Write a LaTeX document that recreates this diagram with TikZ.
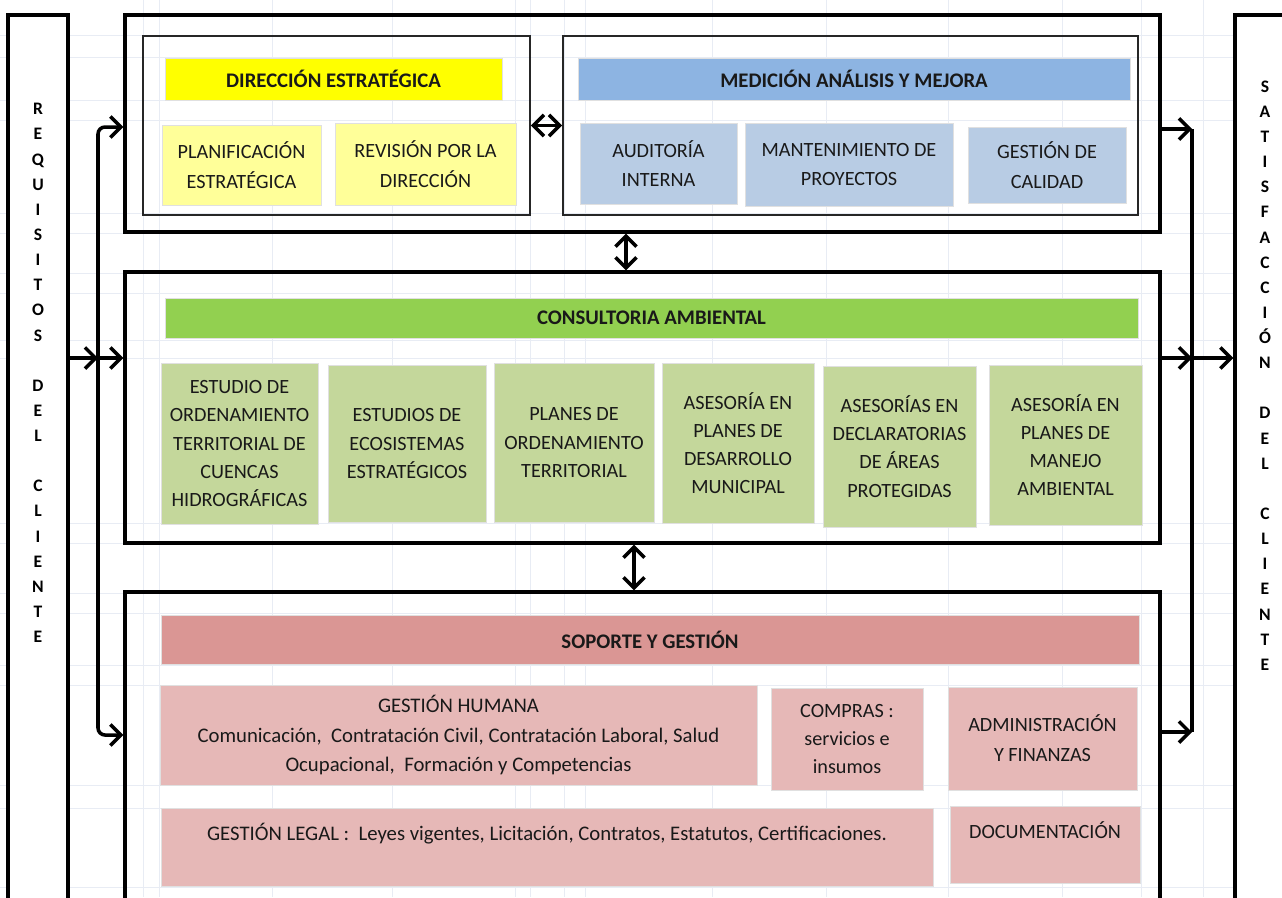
\documentclass[tikz,border=0pt]{standalone}
\usepackage{fontspec}
\setmainfont{Carlito}
\usepackage{xcolor}
\usepackage{tikz}
\usetikzlibrary{arrows.meta}

\definecolor{rejilla}{HTML}{E8ECF4}
\definecolor{amarillo}{HTML}{FFFF00}
\definecolor{amarilloclaro}{HTML}{FFFF99}
\definecolor{azul}{HTML}{8DB4E2}
\definecolor{azulclaro}{HTML}{B8CCE4}
\definecolor{verde}{HTML}{92D050}
\definecolor{verdeclaro}{HTML}{C4D79B}
\definecolor{rosa}{HTML}{DA9694}
\definecolor{rosaclaro}{HTML}{E6B8B7}

\begin{document}
\begin{tikzpicture}[
    every node/.style={font=\fontsize{11.5}{16}\selectfont, text=black!90},
    outerbox/.style={draw=black, line width=1.8pt, inner sep=0pt, minimum width=20.70cm},
    innerbox/.style={draw=black!85, line width=1.1pt, inner sep=0pt, minimum height=3.58cm},
    headbar/.style={draw=black!12, line width=0.4pt, inner sep=0pt,
                    font=\fontsize{11.8}{16}\selectfont\bfseries, minimum height=0.84cm},
    itembox/.style={draw=black!12, line width=0.4pt, inner sep=2pt, align=center},
    sidebox/.style={draw=black, line width=1.8pt, fill=white, inner sep=0pt,
                    minimum width=1.2cm, minimum height=17.9cm},
    sidetext/.style={font=\fontsize{10}{14.3}\selectfont\bfseries, align=center, text=black},
    flow/.style={-{Straight Barb[length=6pt,width=12pt]}, line width=2pt},
    twoway/.style={{Straight Barb[length=6pt,width=12pt]}-{Straight Barb[length=6pt,width=12pt]},
                   line width=2pt}
  ]
  \useasboundingbox (0,0) rectangle (25.64,-17.94);
  \clip (0,0) rectangle (25.64,-17.94);

  % spreadsheet grid behind everything
  \foreach \gx in {2.86,3.18,5.44,7.84,10.30,10.60,11.28,11.70,14.24,16.52,18.96,21.24,22.82,24.06}
    \draw[rejilla, line width=0.5pt] (\gx,0) -- (\gx,-17.94);
  \foreach \gy in {0.70,1.14,2.00,2.40,4.26,4.66,5.46,5.86,6.80,7.16,10.46,10.86,11.86,12.26,13.30,13.70,15.70,16.16,17.74}
    \draw[rejilla, line width=0.5pt] (0,-\gy) -- (25.64,-\gy);

  % client columns
  \node[sidebox] (req) at (0.76,-9.25) {};
  \node[sidetext] (req text) at (0.76,-7.46)
    {R\\E\\Q\\U\\I\\S\\I\\T\\O\\S\\[14.3pt]D\\E\\L\\[14.3pt]C\\L\\I\\E\\N\\T\\E};
  \node[sidebox, minimum width=1.4cm] (sat) at (25.40,-9.25) {};
  \node[sidetext] (sat text) at (25.30,-7.51)
    {S\\A\\T\\I\\S\\F\\A\\C\\C\\I\\Ó\\N\\[14.3pt]D\\E\\L\\[14.3pt]C\\L\\I\\E\\N\\T\\E};

  % process blocks
  \node[outerbox, minimum height=4.34cm] (top) at (12.85,-2.47) {};
  \node[outerbox, minimum height=5.42cm] (mid) at (12.85,-8.15) {};
  \node[outerbox, minimum height=6.36cm] (low) at (12.85,-15.02) {};

  % direccion / medicion
  \node[innerbox, minimum width=7.74cm] (dir) at (6.73,-2.51) {};
  \node[innerbox, minimum width=11.50cm] (med) at (17.01,-2.51) {};
  \node[headbar, fill=amarillo, minimum width=6.74cm] (dir head) at (6.67,-1.58) {DIRECCIÓN ESTRATÉGICA};
  \node[itembox, fill=amarilloclaro, minimum width=3.18cm, minimum height=1.60cm,
        font=\fontsize{11.5}{17}\selectfont] (plan) at (4.83,-3.30) {PLANIFICACIÓN\\ESTRATÉGICA};
  \node[itembox, fill=amarilloclaro, minimum width=3.62cm, minimum height=1.64cm,
        font=\fontsize{11.5}{17}\selectfont] (rev) at (8.51,-3.28) {REVISIÓN POR LA\\DIRECCIÓN};
  \node[headbar, fill=azul, minimum width=11.04cm] (med head) at (17.08,-1.58) {MEDICIÓN ANÁLISIS Y MEJORA};
  \node[itembox, fill=azulclaro, minimum width=3.14cm, minimum height=1.62cm,
        font=\fontsize{11.5}{17}\selectfont] (aud) at (13.17,-3.27) {AUDITORÍA\\INTERNA};
  \node[itembox, fill=azulclaro, minimum width=4.16cm, minimum height=1.66cm,
        font=\fontsize{11.5}{17}\selectfont] (mant) at (16.98,-3.29) {MANTENIMIENTO DE\\PROYECTOS};
  \node[itembox, fill=azulclaro, minimum width=3.16cm, minimum height=1.52cm,
        font=\fontsize{11.5}{17}\selectfont] (cal) at (20.94,-3.30) {GESTIÓN DE\\CALIDAD};

  % consultoria
  \node[headbar, fill=verde, minimum width=19.46cm, minimum height=0.80cm] (con head) at (13.03,-6.36) {CONSULTORIA AMBIENTAL};
  \node[itembox, fill=verdeclaro, minimum width=3.14cm, minimum height=3.22cm] (cuencas) at (4.79,-8.87)
    {ESTUDIO DE\\ORDENAMIENTO\\TERRITORIAL DE\\CUENCAS\\HIDROGRÁFICAS};
  \node[itembox, fill=verdeclaro, minimum width=3.16cm, minimum height=3.14cm] (eco) at (8.14,-8.87)
    {ESTUDIOS DE\\ECOSISTEMAS\\ESTRATÉGICOS};
  \node[itembox, fill=verdeclaro, minimum width=3.20cm, minimum height=3.18cm] (pot) at (11.48,-8.85)
    {PLANES DE\\ORDENAMIENTO\\TERRITORIAL};
  \node[itembox, fill=verdeclaro, minimum width=3.04cm, minimum height=3.20cm] (pdm) at (14.76,-8.86)
    {ASESORÍA EN\\PLANES DE\\DESARROLLO\\MUNICIPAL};
  \node[itembox, fill=verdeclaro, minimum width=3.06cm, minimum height=3.22cm] (areas) at (17.99,-8.93)
    {ASESORÍAS EN\\DECLARATORIAS\\DE ÁREAS\\PROTEGIDAS};
  \node[itembox, fill=verdeclaro, minimum width=3.06cm, minimum height=3.20cm] (pma) at (21.31,-8.90)
    {ASESORÍA EN\\PLANES DE\\MANEJO\\AMBIENTAL};

  % soporte
  \node[headbar, fill=rosa, minimum width=19.56cm, minimum height=0.98cm] (sop head) at (13.00,-12.79) {SOPORTE Y GESTIÓN};
  \node[itembox, fill=rosaclaro, minimum width=11.94cm, minimum height=2.00cm,
        font=\fontsize{11.8}{17}\selectfont] (hum) at (9.17,-14.70)
    {GESTIÓN HUMANA\\Comunicación,\ \ Contratación Civil, Contratación Laboral, Salud\\Ocupacional,\ \ Formación y Competencias};
  \node[itembox, fill=rosaclaro, minimum width=3.04cm, minimum height=2.04cm] (comp) at (16.94,-14.78)
    {COMPRAS :\\servicios e\\insumos};
  \node[itembox, fill=rosaclaro, minimum width=3.78cm, minimum height=2.06cm,
        font=\fontsize{11.5}{17}\selectfont] (adm) at (20.85,-14.77) {ADMINISTRACIÓN\\Y FINANZAS};
  \node[itembox, fill=rosaclaro, minimum width=15.44cm, minimum height=1.56cm, text depth=17pt,
        font=\fontsize{11.8}{16}\selectfont] (legal) at (10.94,-16.94)
    {GESTIÓN LEGAL :\ \ Leyes vigentes, Licitación, Contratos, Estatutos, Certificaciones.};
  \node[itembox, fill=rosaclaro, minimum width=3.80cm, minimum height=1.54cm, text depth=17pt] (doc) at (20.90,-16.89)
    {DOCUMENTACIÓN};

  % links between blocks
  \draw[twoway] (dir.east) -- (med.west);
  \draw[twoway] ([xshift=-0.33cm]top.south) -- ([xshift=-0.33cm]mid.north);
  \draw[twoway] ([xshift=-0.17cm]mid.south) -- ([xshift=-0.17cm]low.north);

  % client requirements in
  \coordinate (lbus top) at (1.96,-2.54);
  \coordinate (lbus mid) at (1.96,-7.16);
  \coordinate (lbus low) at (1.96,-14.70);
  \draw[twoway, rounded corners=4pt] (top.west |- lbus top) -- (lbus top) -- (lbus low) -- (low.west |- lbus low);
  \draw[flow] (req.east |- lbus mid) -- (lbus mid);
  \draw[flow] (lbus mid) -- (mid.west |- lbus mid);

  % client satisfaction out
  \coordinate (rbus top) at (23.84,-2.58);
  \coordinate (rbus mid) at (23.84,-7.16);
  \coordinate (rbus low) at (23.84,-14.64);
  \draw[line width=2pt] (rbus top) -- (rbus low);
  \draw[flow] (top.east |- rbus top) -- (rbus top);
  \draw[flow] (mid.east |- rbus mid) -- (rbus mid);
  \draw[flow] (low.east |- rbus low) -- (rbus low);
  \draw[flow] (rbus mid) -- (sat.west |- rbus mid);
\end{tikzpicture}
\end{document}
